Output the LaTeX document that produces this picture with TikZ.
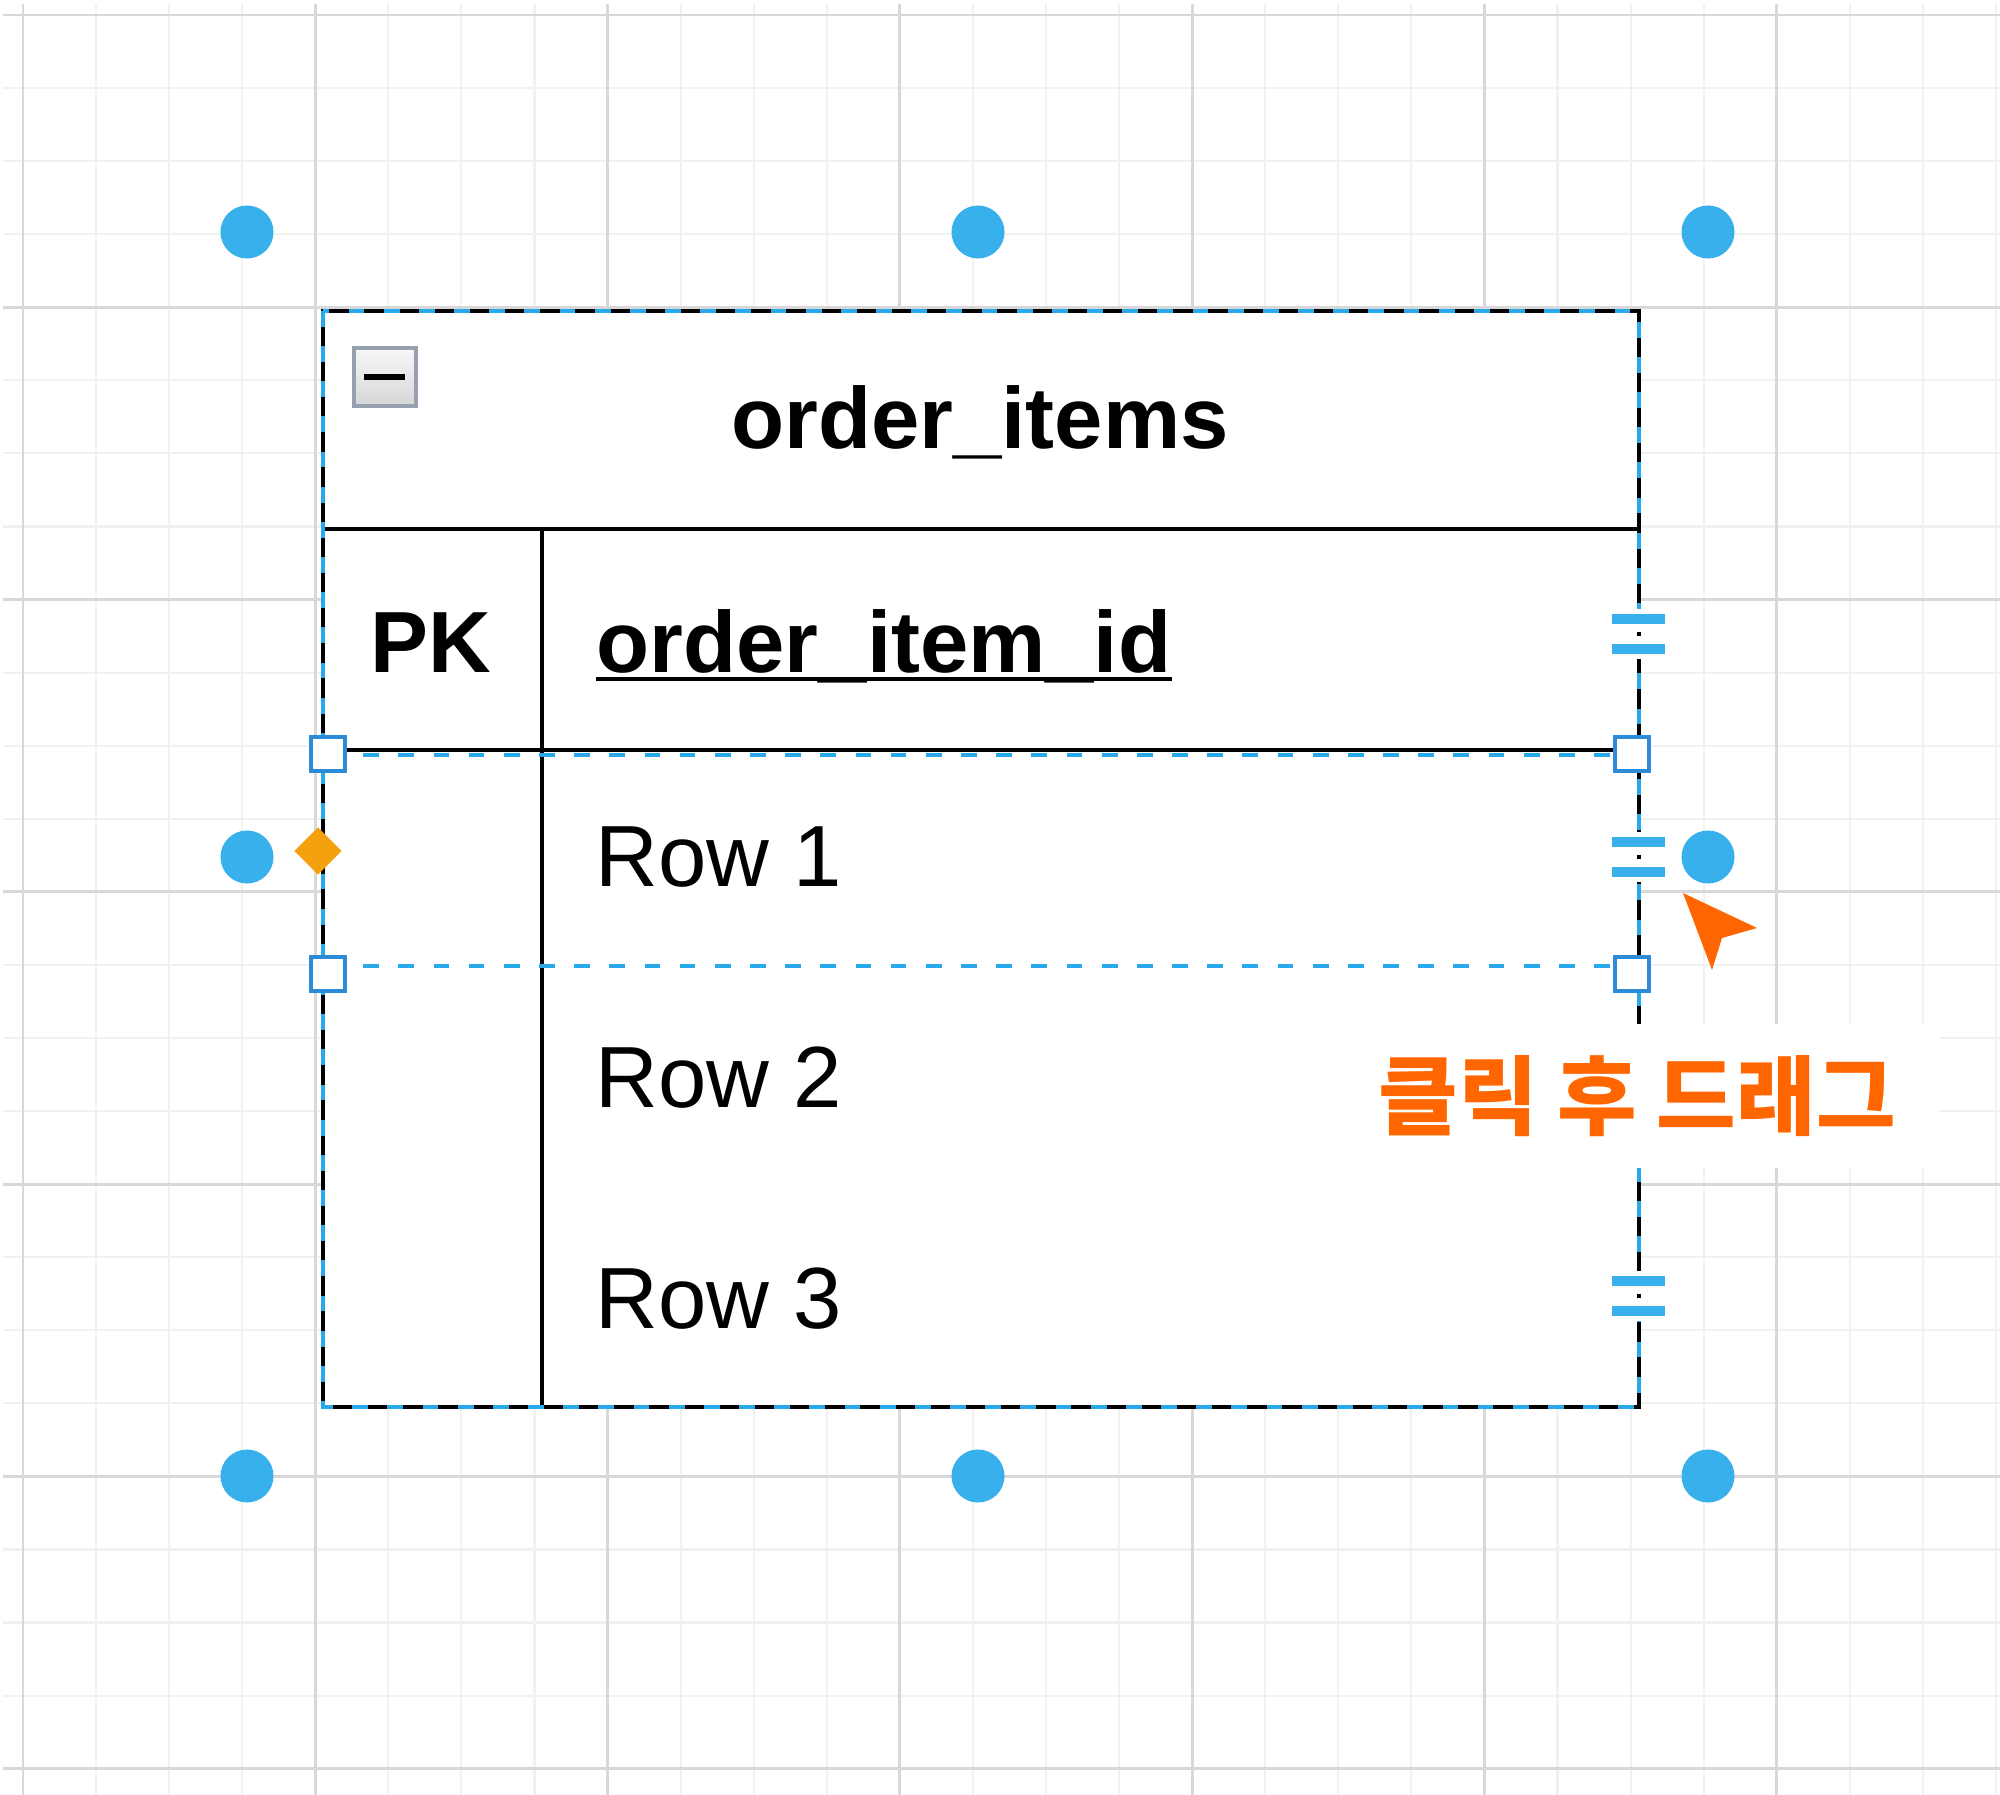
\documentclass[tikz,border=0pt]{standalone}
\usepackage{fontspec}
\setmainfont{Liberation Sans}
\newfontfamily\kofont{Noto Sans CJK KR}
\usetikzlibrary{shapes.geometric}

\definecolor{gridminor}{RGB}{241,241,241}
\definecolor{gridmajor}{RGB}{216,216,216}
\definecolor{selblue}{RGB}{41,168,235}
\definecolor{dotblue}{RGB}{56,176,236}
\definecolor{sqblue}{RGB}{45,138,214}
\definecolor{pivorange}{RGB}{245,160,15}
\definecolor{hintorange}{RGB}{255,102,0}
\definecolor{boxgray}{RGB}{150,160,175}

\begin{document}
\begin{tikzpicture}[x=0.01cm,y=-0.01cm,
	handle/.style={ circle, fill=dotblue, inner sep=0pt, minimum size=0.53cm },
	rowsq/.style={ draw=sqblue, fill=white, line width=1.1pt, inner sep=0pt, minimum size=0.34cm },
	pivot/.style={ diamond, fill=pivorange, inner sep=0pt, minimum width=0.48cm, minimum height=0.48cm },
	seldash/.style={ draw=selblue, line width=1.3pt, dash pattern=on 4.5pt off 5.5pt },
	cell/.style={ inner sep=0pt, font=\fontsize{24.7pt}{30pt}\selectfont },
	gapbar/.style={ fill=dotblue }
]

\useasboundingbox (0,0) rectangle (2000,1795);
\fill[white] (0,0) rectangle (2000,1795);

% grid
\foreach \k in {0,...,27}
  \draw[gridminor,line width=0.6pt] ({23+73.07*\k},4) -- ({23+73.07*\k},1795);
\foreach \k in {0,...,24}
  \draw[gridminor,line width=0.6pt] (3,{15+73.07*\k}) -- (2000,{15+73.07*\k});
\foreach \k in {0,...,6} {
  \draw[gridmajor,line width=0.8pt] ({23+292.28*\k},4) -- ({23+292.28*\k},1795);
  \draw[gridmajor,line width=0.8pt] (3,{15+292.28*\k}) -- (2000,{15+292.28*\k});
}

% table
\draw[fill=white,line width=1.25pt] (323,311) rectangle (1639,1407);
\draw[line width=1.25pt] (323,529) -- (1639,529);
\draw[line width=1.25pt] (323,750) -- (1639,750);
\draw[line width=1.25pt] (542,529) -- (542,1407);

\draw[boxgray,top color=gray!6,bottom color=gray!32,line width=1pt]
  (354,348) rectangle (416,406);
\draw[line width=1.8pt] (364,377) -- (405,377);

\node at (980,449) (ttl) [cell,anchor=base] {\bfseries order\_items};
\node at (431,673) (pk) [cell,anchor=base] {\bfseries PK};
\node at (596,673) (keyname) [cell,anchor=base west] {\bfseries order\_item\_id};
\draw[line width=1.2pt] ([yshift=-1.75pt]keyname.base west) -- ([yshift=-1.75pt]keyname.base east);
\node at (595,887) (r1) [cell,anchor=base west] {Row 1};
\node at (595,1107) (r2) [cell,anchor=base west] {Row 2};
\node at (595,1328) (r3) [cell,anchor=base west] {Row 3};

% selection
\draw[seldash] (323,311) rectangle (1639,1407);
\draw[seldash] (328,755) -- (1632,755);
\draw[seldash] (328,966) -- (1632,966);

\foreach \y in {634,857,1296} {
  \fill[white] (1631,\y-25) rectangle (1646,\y+25);
  \fill[gapbar] (1612,\y-20) rectangle (1665,\y-10);
  \fill[gapbar] (1612,\y+10) rectangle (1665,\y+20);
  \fill[black] (1637,\y-2) rectangle (1641,\y+2);
}

\node at (328,754) (s1) [rowsq] {};
\node at (1632,754) (s2) [rowsq] {};
\node at (328,974) (s3) [rowsq] {};
\node at (1632,974) (s4) [rowsq] {};
\node at (318,851) (piv) [pivot] {};

\node at (247,232) (h1) [handle] {};
\node at (978,232) (h2) [handle] {};
\node at (1708,232) (h3) [handle] {};
\node at (247,857) (h4) [handle] {};
\node at (1708,857) (h5) [handle] {};
\node at (247,1476) (h6) [handle] {};
\node at (978,1476) (h7) [handle] {};
\node at (1708,1476) (h8) [handle] {};

% cursor
\fill[hintorange] (1683,893) -- (1757,928) -- (1722,938) -- (1712,970) -- cycle;

\node at (1637,1096) (hint) [fill=white,inner sep=0pt,minimum width=6.03cm,minimum height=1.44cm,
  text=hintorange,font=\kofont\bfseries\fontsize{24.6pt}{29pt}\selectfont] {클릭 후 드래그};

\end{tikzpicture}
\end{document}
